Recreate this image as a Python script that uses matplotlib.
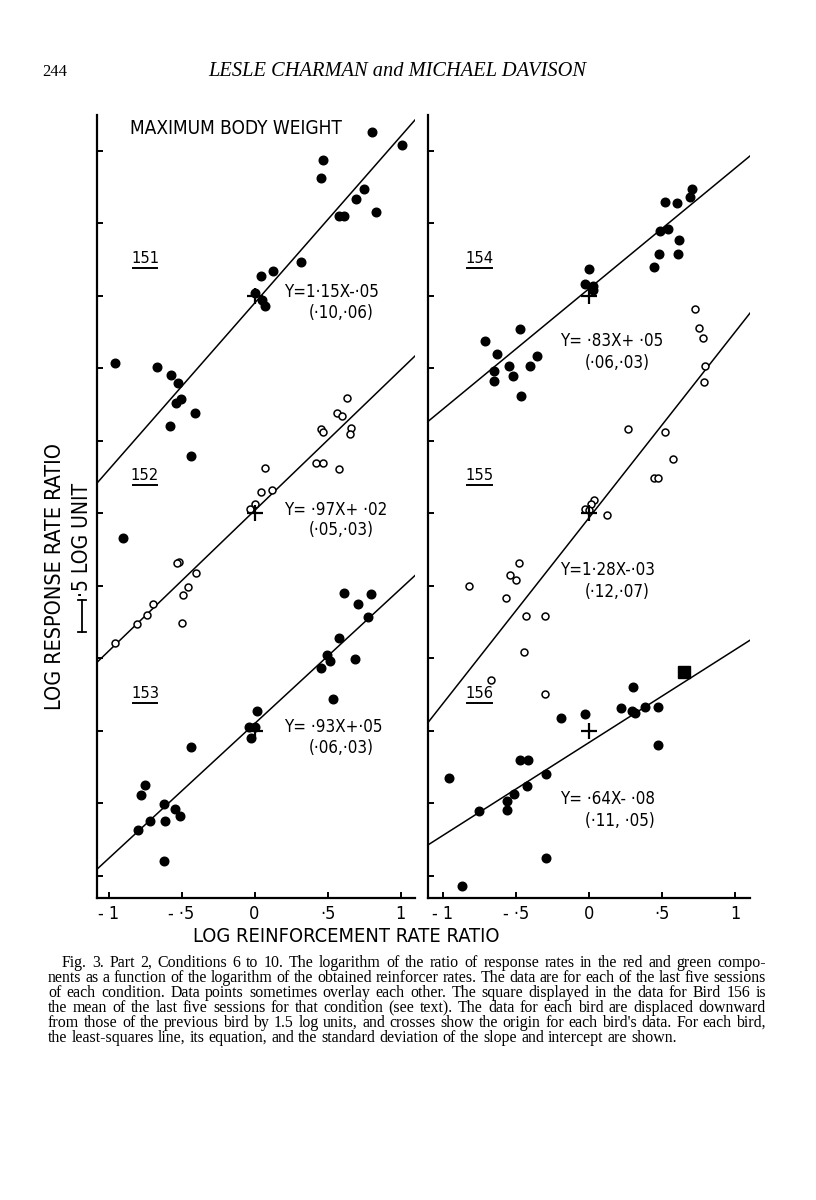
import matplotlib
matplotlib.use("Agg")
import matplotlib.pyplot as plt
import numpy as np
from matplotlib import font_manager
from matplotlib.lines import Line2D

# ---- data (x = log reinforcement ratio, y = log response ratio, relative to each bird's origin)
x151 = [0.806, 1.007, 0.468, 0.452, 0.749, 0.692, 0.833, 0.578, 0.612, 0.315, 0.128, 0.046, 0.0,
        0.053, 0.075, -0.957, -0.671, -0.575, -0.523, -0.541, -0.507, -0.582, -0.409, -0.432, -0.902]
y151 = [1.133, 1.041, 0.938, 0.811, 0.738, 0.669, 0.581, 0.552, 0.552, 0.234, 0.172, 0.140, 0.02,
        -0.03, -0.069, -0.464, -0.492, -0.547, -0.602, -0.736, -0.708, -0.897, -0.809, -1.101, -1.671]

x152 = [0.630, 0.562, 0.600, 0.452, 0.468, 0.662, 0.653, 0.418, 0.468, 0.578, 0.075, 0.121, 0.046,
        0.0, -0.032, -0.518, -0.530, -0.404, -0.457, -0.491, -0.696, -0.735, -0.804, -0.495, -0.959]
y152 = [0.794, 0.691, 0.672, 0.581, 0.564, 0.592, 0.546, 0.346, 0.346, 0.305, 0.312, 0.162, 0.150,
        0.063, 0.031, -0.337, -0.344, -0.408, -0.505, -0.562, -0.624, -0.700, -0.762, -0.757, -0.895]

x153 = [0.616, 0.795, 0.708, 0.776, 0.578, 0.498, 0.687, 0.516, 0.457, 0.536, 0.018, -0.039, 0.0,
        -0.021, -0.432, -0.747, -0.781, -0.621, -0.546, -0.511, -0.719, -0.610, -0.799, -0.621]
y153 = [0.954, 0.943, 0.874, 0.788, 0.643, 0.524, 0.494, 0.485, 0.432, 0.219, 0.140, 0.030, 0.026,
        -0.050, -0.108, -0.372, -0.441, -0.506, -0.538, -0.584, -0.621, -0.619, -0.685, -0.897]

x154 = [0.705, 0.694, 0.518, 0.603, 0.489, 0.543, 0.614, 0.482, 0.607, 0.443, -0.002, -0.025, 0.025,
        0.030, -0.473, -0.710, -0.632, -0.356, -0.550, -0.402, -0.653, -0.523, -0.653, -0.466]
y154 = [0.738, 0.685, 0.650, 0.639, 0.448, 0.460, 0.386, 0.287, 0.287, 0.202, 0.186, 0.081, 0.071,
        0.041, -0.228, -0.313, -0.398, -0.414, -0.481, -0.483, -0.515, -0.550, -0.584, -0.688]

x155 = [0.728, 0.751, 0.779, 0.797, 0.790, 0.269, 0.518, 0.573, 0.443, 0.470, 0.034, 0.014, -0.025,
        0.002, 0.123, -0.477, -0.539, -0.500, -0.824, -0.566, -0.429, -0.301, -0.447, -0.669, -0.299]
y155 = [1.410, 1.282, 1.208, 1.019, 0.905, 0.581, 0.564, 0.374, 0.245, 0.245, 0.095, 0.063, 0.033,
        0.024, -0.010, -0.343, -0.424, -0.459, -0.498, -0.581, -0.705, -0.707, -0.957, -1.148, -1.245]

x156 = [0.299, 0.219, 0.295, 0.317, 0.386, 0.470, -0.030, -0.192, 0.475, -0.473, -0.418, -0.292,
        -0.957, -0.425, -0.511, -0.564, -0.564, -0.751, -0.295, -0.870]
y156 = [0.301, 0.157, 0.140, 0.126, 0.168, 0.168, 0.117, 0.088, -0.097, -0.200, -0.200, -0.299,
        -0.322, -0.379, -0.437, -0.483, -0.545, -0.552, -0.878, -1.067]
mean156 = (0.653, 0.405)   # the square

birds = [151, 152, 153, 154, 155, 156]
offsets = [0.0, -1.5, -3.0, 0.0, -1.5, -3.0]     # each bird displaced by 1.5 log units
filled = [True, False, True, True, False, True]
slopes = [1.15, 0.97, 0.93, 0.83, 1.28, 0.64]
intercepts = [-0.05, 0.02, 0.05, 0.05, -0.03, -0.08]
eq_text = ["Y=1·15X-·05", "Y= ·97X+ ·02", "Y= ·93X+·05", "Y= ·83X+ ·05", "Y=1·28X-·03", "Y= ·64X- ·08"]
sd_text = ["(·10,·06)", "(·05,·03)", "(·06,·03)", "(·06,·03)", "(·12,·07)", "(·11, ·05)"]
xs_all = [x151, x152, x153, x154, x155, x156]
ys_all = [y151, y152, y153, y154, y155, y156]

xticks = [-1, -0.5, 0, 0.5, 1]
xticklabels = ["- 1", "- ·5", "0", "·5", "1"]

caption = [
    "Fig. 3. Part 2, Conditions 6 to 10. The logarithm of the ratio of response rates in the red and green compo-",
    "nents as a function of the logarithm of the obtained reinforcer rates. The data are for each of the last five sessions",
    "of each condition. Data points sometimes overlay each other. The square displayed in the data for Bird 156 is",
    "the mean of the last five sessions for that condition (see text). The data for each bird are displaced downward",
    "from those of the previous bird by 1.5 log units, and crosses show the origin for each bird's data. For each bird,",
    "the least-squares line, its equation, and the standard deviation of the slope and intercept are shown.",
]

# ---- pick a narrow sans if there is one (the original lettering is condensed)
def pick_sans():
    ents = font_manager.fontManager.ttflist
    for e in ents:
        if e.name == "DejaVu Sans" and e.stretch in ("condensed", "semi-condensed"):
            return {"fontfamily": "DejaVu Sans", "fontstretch": "condensed"}
    names = {e.name for e in ents}
    for n in ["Liberation Sans Narrow", "Roboto Condensed", "Open Sans Condensed"]:
        if n in names:
            return {"fontfamily": n}
    return {"fontfamily": "DejaVu Sans"}

SANS = pick_sans()
SERIF = {"fontfamily": "Liberation Serif"}

W, H = 816, 1200
fig = plt.figure(figsize=(W / 100, H / 100), dpi=100)
fig.patch.set_facecolor("white")
renderer = fig.canvas.get_renderer()


def fx(px):
    return px / W


def fy(py):
    return 1 - py / H


def fit(t, size_px, use_height=False):
    bb = t.get_window_extent(renderer)
    cur = bb.height if use_height else bb.width
    t.set_fontsize(t.get_fontsize() * size_px / cur)
    return t


axL = fig.add_axes([fx(97), fy(898), (415 - 97) / W, (898 - 115) / H])
axR = fig.add_axes([fx(428), fy(898), (750 - 428) / W, (898 - 115) / H])
axL.set_xlim(-1.079, 1.099)
axR.set_xlim(-1.103, 1.103)

for ax in (axL, axR):
    ax.set_ylim(-4.152, 1.248)
    ax.set_facecolor("none")
    for s in ("top", "right"):
        ax.spines[s].set_visible(False)
    for s in ("left", "bottom"):
        ax.spines[s].set_linewidth(1.6)
    ax.set_yticks(np.arange(-4.0, 1.01, 0.5))
    ax.set_yticklabels([])
    ax.set_xticks(xticks)
    ax.set_xticklabels(xticklabels, fontsize=13, **SANS)
    ax.tick_params(direction="in", length=4, width=1.4, pad=5)

eq_size = None
for i, b in enumerate(birds):
    ax = axL if i < 3 else axR
    off = offsets[i]
    xl = np.array(ax.get_xlim())
    ax.plot(xl, slopes[i] * xl + intercepts[i] + off, color="black", lw=1.1, zorder=2)
    xv = np.array(xs_all[i])
    yv = np.array(ys_all[i]) + off
    if filled[i]:
        ax.plot(xv, yv, "o", ms=6.2, color="black", zorder=3)
    else:
        ax.plot(xv, yv, "o", ms=5.0, mfc="white", mec="black", mew=1.1, zorder=3)
    ax.plot(0, off, marker="+", ms=12, mew=1.6, color="black", zorder=4)

    # bird number, underlined
    lx, ly = -0.75, off + 0.26
    t = ax.text(lx, ly, str(b), ha="center", va="center", fontsize=12, **SANS)
    fit(t, 28)
    ax.plot([lx - 0.085, lx + 0.085], [ly - 0.066] * 2, color="black", lw=1.4)

    # equation and sds
    if i < 3:
        ex, ey, sx, sy = 0.205, off + 0.026, 0.37, off - 0.117
    else:
        ex, ey, sx, sy = -0.20, off - 0.31 - 0.08 * (i - 3), -0.03, off - 0.462 - 0.08 * (i - 3)
    t1 = ax.text(ex, ey, eq_text[i], ha="left", va="center", fontsize=11, **SANS)
    if eq_size is None:
        fit(t1, 95)
        eq_size = t1.get_fontsize()
    t1.set_fontsize(eq_size)
    ax.text(sx, sy, sd_text[i], ha="left", va="center", fontsize=eq_size, **SANS)

axR.plot(mean156[0], mean156[1] + offsets[5], "s", ms=8, color="black", zorder=4)

# title inside left panel
t = fig.text(fx(130), fy(128), "MAXIMUM BODY WEIGHT", ha="left", va="center", fontsize=14, **SANS)
fit(t, 213)

# axis labels
t = fig.text(fx(346), fy(936), "LOG REINFORCEMENT RATE RATIO", ha="center", va="center", fontsize=14, **SANS)
fit(t, 308)
t = fig.text(fx(55), fy(577), "LOG RESPONSE RATE RATIO", rotation=90, ha="center", va="center",
             fontsize=14, **SANS)
fit(t, 269, use_height=True)
t = fig.text(fx(82), fy(540), "·5 LOG UNIT", rotation=90, ha="center", va="center", fontsize=12, **SANS)
fit(t, 114, use_height=True)

# scale bar
for seg in ([(81.5, 81.5), (600, 632)], [(77.5, 85.5), (600, 600)], [(77.5, 85.5), (632, 632)]):
    fig.add_artist(Line2D([fx(v) for v in seg[0]], [fy(v) for v in seg[1]], color="black", lw=1.3))

# running head
fig.text(fx(42), fy(72), "244", ha="left", va="center", fontsize=12, **SERIF)
t = fig.text(fx(397), fy(72), "LESLE CHARMAN and MICHAEL DAVISON", ha="center", va="center",
             fontsize=12, style="italic", **SERIF)
fit(t, 376)

# caption: size the type so the longest line fills the measure, then justify
probe = fig.text(0, 0, caption[1], fontsize=10, **SERIF)
cap_size = 10 * (766 - 48) / probe.get_window_extent(renderer).width
probe.remove()


def word_space(size):
    a = fig.text(0, 0, "a a", fontsize=size, **SERIF)
    b = fig.text(0, 0, "aa", fontsize=size, **SERIF)
    sp = a.get_window_extent(renderer).width - b.get_window_extent(renderer).width
    a.remove()
    b.remove()
    return sp


def justified(line, x0, x1, py, last=False):
    words = line.split(" ")
    texts = [fig.text(0, fy(py), w, ha="left", va="center", fontsize=cap_size, **SERIF) for w in words]
    widths = [tt.get_window_extent(renderer).width for tt in texts]
    gap = word_space(cap_size) if last else (x1 - x0 - sum(widths)) / (len(words) - 1)
    x = x0
    for tt, w in zip(texts, widths):
        tt.set_x(fx(x))
        x += w + gap


cap_y = [963, 978, 993, 1008, 1023, 1038]
for k, line in enumerate(caption):
    justified(line, 62 if k == 0 else 48, 766, cap_y[k], last=(k == len(caption) - 1))

fig.savefig("out.png", dpi=100, facecolor="white")
